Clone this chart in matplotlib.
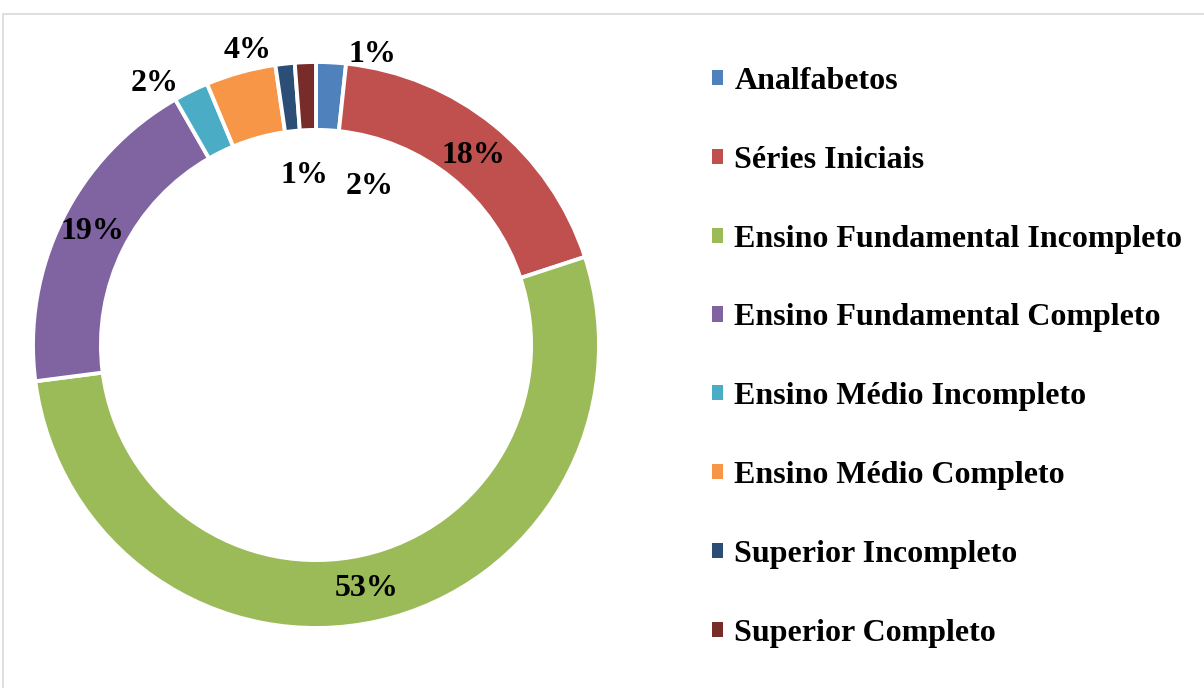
import matplotlib.pyplot as plt
from matplotlib.patches import Rectangle

# Escolaridade (share of respondents, %), clockwise from 12 o'clock
categories = [
    "Analfabetos",
    "Séries Iniciais",
    "Ensino Fundamental Incompleto",
    "Ensino Fundamental Completo",
    "Ensino Médio Incompleto",
    "Ensino Médio Completo",
    "Superior Incompleto",
    "Superior Completo",
]
values = [1.7, 18.3, 53.1, 18.8, 2.0, 4.0, 1.1, 1.2]
colors = ["#4F81BD", "#C0504D", "#9BBB59", "#8064A2",
          "#4BACC6", "#F79646", "#2C4D75", "#772C2A"]

# label positions (pie units, radius 1) - dragged by hand in the original
label_pos = [(0.19, 0.56), (0.555, 0.67), (0.18, -0.86), (-0.79, 0.40),
             (-0.57, 0.925), (-0.24, 1.04), (-0.04, 0.60), (0.20, 1.025)]

plt.rcParams['font.family'] = ['Liberation Serif', 'DejaVu Serif']

W, H = 1204, 688
fig = plt.figure(figsize=(W / 100, H / 100), dpi=100)

# light frame around the chart area
fig.patches.append(Rectangle((3 / W, -0.5), 2, 1.5 - 14 / H, transform=fig.transFigure,
                             fill=False, edgecolor="#d9d9d9", linewidth=1.2))

# pie axes: center at (316, 345) px, radius 283 px
r_px = 283
lim = 1.2
side = 2 * lim * r_px
cx, cy = 316, H - 345
ax = fig.add_axes([(cx - side / 2) / W, (cy - side / 2) / H, side / W, side / H])

wedges, _ = ax.pie(values, colors=colors, startangle=90, counterclock=False,
                   radius=1, wedgeprops=dict(width=0.24, edgecolor="white", linewidth=2.8))
ax.set_xlim(-lim, lim)
ax.set_ylim(-lim, lim)
ax.set_aspect('equal')
ax.axis('off')

for v, (x, y) in zip(values, label_pos):
    ax.text(x, y, f"{round(v)}%", ha='center', va='center',
            fontsize=23, fontweight='bold', color='black')

leg = fig.legend(wedges, categories, loc='upper left',
                 bbox_to_anchor=(712 / W, 1 - 67 / H),
                 frameon=False, handlelength=0.35, handleheight=0.35,
                 handletextpad=0.35, labelspacing=1.56, borderaxespad=0,
                 borderpad=0, prop=dict(size=23, weight='bold'))
for h in leg.legend_handles:
    h.set_edgecolor('none')

fig.savefig("out.png", dpi=100, facecolor='white')
